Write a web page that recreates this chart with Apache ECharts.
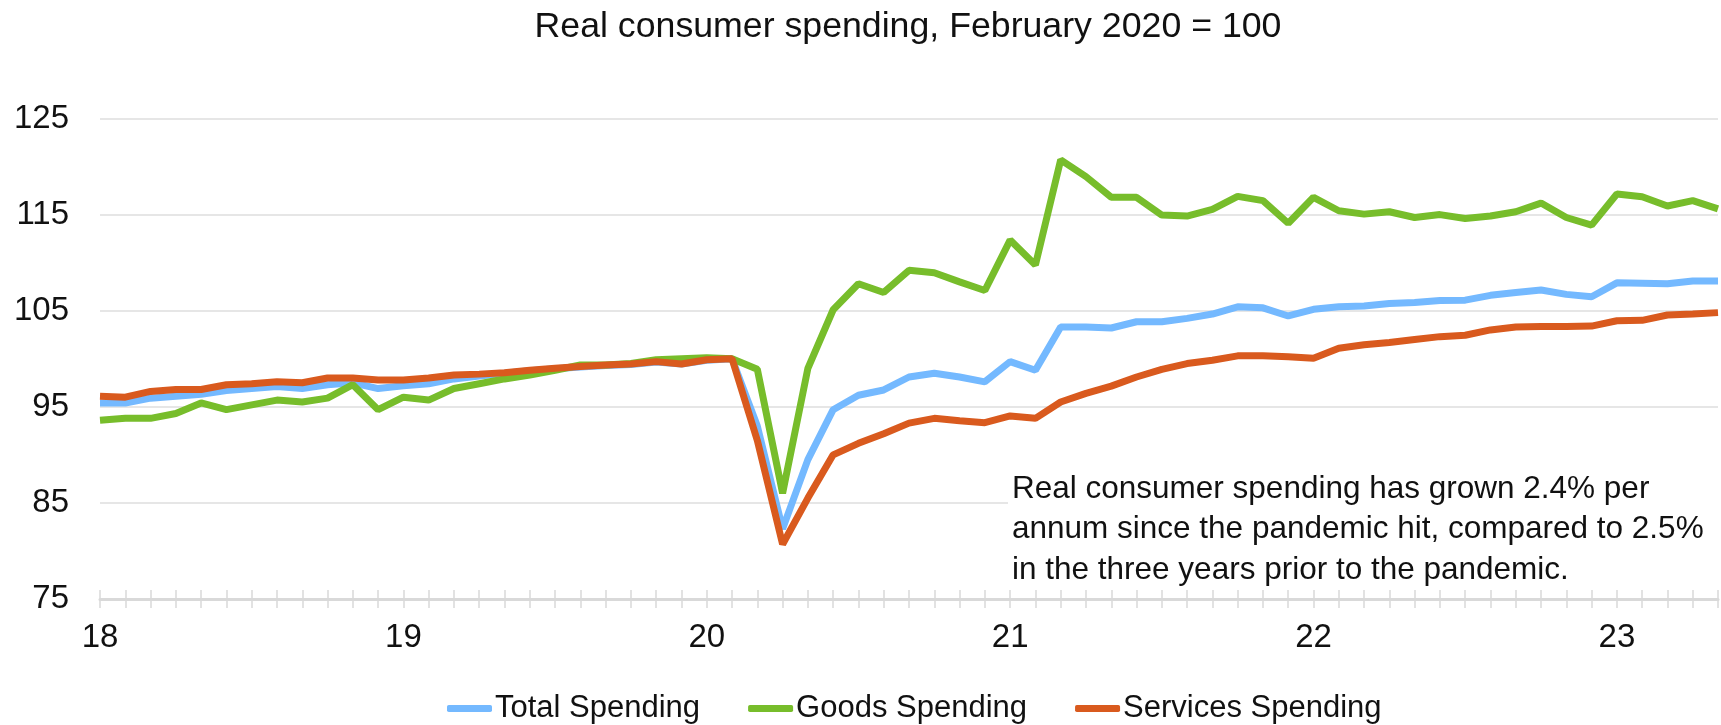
<!DOCTYPE html>
<html lang="en" style="height: 100%">
<head>
  <meta charset="utf-8">
</head>
<body style="height: 100%; margin: 0; background: #fff">
  <div id="container" style="width: 1721px; height: 725px"></div>

  <script type="text/javascript" src="https://fastly.jsdelivr.net/npm/echarts@6.0.0/dist/echarts.min.js"></script>
  <script type="text/javascript">
    // monthly, Jan 2018 .. May 2023
    var years = ['2018', '2019', '2020', '2021', '2022', '2023'];
    var monthNums = ['01', '02', '03', '04', '05', '06', '07', '08', '09', '10', '11', '12'];
    var months = [];
    years.forEach(function (y) {
      monthNums.forEach(function (m) {
        if (y === '2023' && +m > 5) return;
        months.push(y + '-' + m);
      });
    });

    var yTicks = [75, 85, 95, 105, 115, 125];

    var totalSpending = [
      95.4, 95.4, 95.9, 96.1, 96.3, 96.7, 96.9, 97.1, 96.9, 97.3, 97.5, 96.9,
      97.2, 97.4, 97.9, 98.2, 98.5, 98.75, 98.95, 99.15, 99.3, 99.4, 99.65, 99.45,
      99.85, 100, 93.0, 82.3, 89.5, 94.7, 96.2, 96.75, 98.1, 98.5, 98.1, 97.6,
      99.7, 98.8, 103.3, 103.3, 103.2, 103.85, 103.85, 104.2, 104.65, 105.4, 105.3, 104.45,
      105.15, 105.4, 105.5, 105.75, 105.85, 106.05, 106.1, 106.6, 106.9, 107.15, 106.7, 106.45,
      107.9, 107.85, 107.8, 108.1, 108.1
    ];
    var goodsSpending = [
      93.6, 93.8, 93.8, 94.3, 95.4, 94.7, 95.2, 95.7, 95.5, 95.9, 97.3, 94.7,
      96.0, 95.7, 96.9, 97.4, 97.9, 98.3, 98.8, 99.35, 99.35, 99.5, 99.9, 100.0,
      100.1, 100, 98.9, 86.0, 99.0, 105.1, 107.8, 106.9, 109.2, 108.95, 108.0, 107.1,
      112.35, 109.75, 120.7, 118.95, 116.8, 116.8, 114.95, 114.85, 115.55, 116.9, 116.45, 114.1,
      116.8, 115.4, 115.05, 115.3, 114.7, 115.0, 114.6, 114.85, 115.3, 116.2, 114.7, 113.9,
      117.15, 116.85, 115.9, 116.45, 115.6
    ];
    var servicesSpending = [
      96.1, 96.0, 96.6, 96.8, 96.8, 97.3, 97.4, 97.6, 97.5, 98.0, 98.0, 97.8,
      97.8, 98.0, 98.3, 98.4, 98.55, 98.8, 99.0, 99.2, 99.35, 99.45, 99.7, 99.45,
      99.9, 100, 91.5, 80.7, 85.5, 90.0, 91.2, 92.2, 93.3, 93.8, 93.55, 93.35,
      94.05, 93.8, 95.5, 96.4, 97.15, 98.1, 98.9, 99.5, 99.85, 100.3, 100.3, 100.2,
      100.05, 101.1, 101.45, 101.7, 102.0, 102.3, 102.45, 103.0, 103.3, 103.35, 103.35, 103.4,
      103.95, 104.0, 104.55, 104.65, 104.8
    ];

    var note = [
      'Real consumer spending has grown 2.4% per',
      'annum since the pandemic hit, compared to 2.5%',
      'in the three years prior to the pandemic.'
    ];

    var font = '"Liberation Sans", Arial, sans-serif';

    var dom = document.getElementById('container');
    var myChart = echarts.init(dom, null, { renderer: 'canvas' });

    var tickStyle = { show: true, interval: 0, length: 9, lineStyle: { color: '#d9d9d9', width: 1.5 } };

    var option = {
      animation: false,
      backgroundColor: '#fff',
      title: {
        text: 'Real consumer spending, February 2020 = 100',
        left: 903,
        top: 4,
        textAlign: 'center',
        textStyle: { fontFamily: font, fontSize: 35.7, fontWeight: 'normal', color: '#111' }
      },
      legend: {
        left: 442,
        top: 688,
        itemWidth: 45,
        itemHeight: 7,
        itemGap: 48,
        icon: 'roundRect',
        textStyle: { fontFamily: font, fontSize: 31, color: '#111', padding: [0, 0, 0, -2] },
        data: ['Total Spending', 'Goods Spending', 'Services Spending']
      },
      grid: { left: 100, right: -12, top: 118.5, bottom: 126 },
      xAxis: [
        {
          type: 'category',
          data: months,
          boundaryGap: false,
          axisLine: { lineStyle: { color: '#d9d9d9', width: 3 } },
          axisTick: tickStyle,
          axisLabel: {
            interval: 0,
            margin: 22,
            fontFamily: font,
            fontSize: 33,
            color: '#111',
            formatter: function (v) {
              return v.slice(5) === '01' ? v.slice(2, 4) : '';
            }
          },
          splitLine: { show: false }
        },
        {
          type: 'category',
          data: months,
          boundaryGap: false,
          position: 'bottom',
          offset: 0,
          axisLine: { show: false },
          axisTick: Object.assign({}, tickStyle, { inside: true }),
          axisLabel: { show: false },
          splitLine: { show: false }
        }
      ],
      yAxis: {
        type: 'value',
        min: yTicks[0],
        max: yTicks[yTicks.length - 1],
        interval: 10,
        axisLine: { show: false },
        axisTick: { show: false },
        axisLabel: { margin: 31, fontFamily: font, fontSize: 33, color: '#111' },
        splitLine: { lineStyle: { color: '#e6e6e6', width: 2 } }
      },
      series: [
        {
          name: 'Total Spending', type: 'line', data: totalSpending,
          showSymbol: false, color: '#74b9ff', lineStyle: { width: 7 }, z: 3
        },
        {
          name: 'Goods Spending', type: 'line', data: goodsSpending,
          showSymbol: false, color: '#77bd2b', lineStyle: { width: 7 }, z: 4
        },
        {
          name: 'Services Spending', type: 'line', data: servicesSpending,
          showSymbol: false, color: '#d95a1e', lineStyle: { width: 7 }, z: 5
        }
      ],
      graphic: [
        {
          type: 'rect', z: 1, left: 1008, top: 466,
          shape: { width: 713, height: 124 },
          style: { fill: '#fff' }
        },
        {
          type: 'text', z: 2, left: 1012, top: 469,
          style: {
            text: note.join('\n'),
            fontFamily: font, fontSize: 31.5, lineHeight: 40.5, fill: '#111'
          }
        }
      ]
    };

    myChart.setOption(option);
    window.addEventListener('resize', myChart.resize);
  </script>
</body>
</html>
